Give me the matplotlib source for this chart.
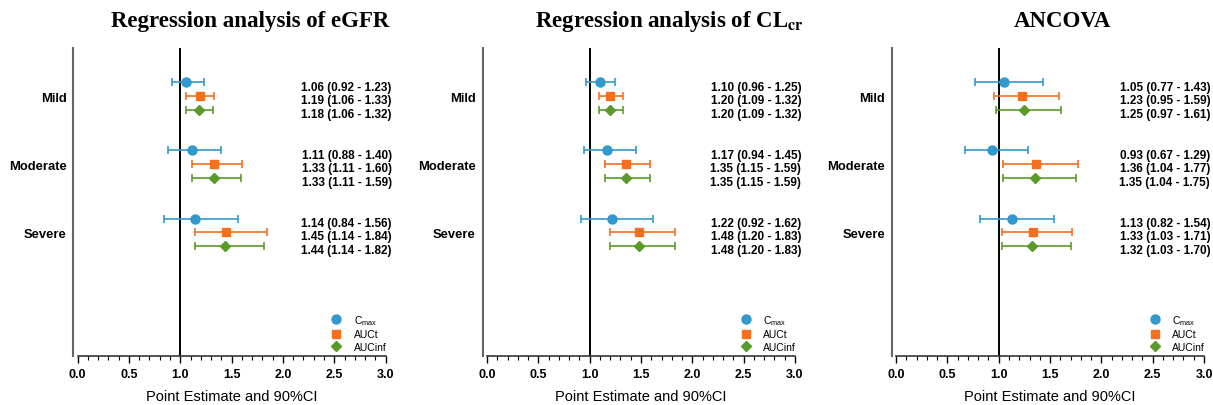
import matplotlib
matplotlib.use('Agg')
import matplotlib.pyplot as plt
from matplotlib.ticker import MultipleLocator
from matplotlib.transforms import blended_transform_factory

plt.rcParams['font.family'] = ['Liberation Sans', 'DejaVu Sans']
plt.rcParams['mathtext.fontset'] = 'custom'
plt.rcParams['mathtext.rm'] = 'Liberation Sans'
plt.rcParams['mathtext.it'] = 'Liberation Sans'

groups = ['Mild', 'Moderate', 'Severe']
params = ['Cmax', 'AUCt', 'AUCinf']

# eGFR regression
egfr_est = {'Cmax': [1.06, 1.11, 1.14], 'AUCt': [1.19, 1.33, 1.45], 'AUCinf': [1.18, 1.33, 1.44]}
egfr_lo = {'Cmax': [0.92, 0.88, 0.84], 'AUCt': [1.06, 1.11, 1.14], 'AUCinf': [1.06, 1.11, 1.14]}
egfr_hi = {'Cmax': [1.23, 1.40, 1.56], 'AUCt': [1.33, 1.60, 1.84], 'AUCinf': [1.32, 1.59, 1.82]}

# CLcr regression
clcr_est = {'Cmax': [1.10, 1.17, 1.22], 'AUCt': [1.20, 1.35, 1.48], 'AUCinf': [1.20, 1.35, 1.48]}
clcr_lo = {'Cmax': [0.96, 0.94, 0.92], 'AUCt': [1.09, 1.15, 1.20], 'AUCinf': [1.09, 1.15, 1.20]}
clcr_hi = {'Cmax': [1.25, 1.45, 1.62], 'AUCt': [1.32, 1.59, 1.83], 'AUCinf': [1.32, 1.59, 1.83]}

# ANCOVA
anc_est = {'Cmax': [1.05, 0.93, 1.13], 'AUCt': [1.23, 1.36, 1.33], 'AUCinf': [1.25, 1.35, 1.32]}
anc_lo = {'Cmax': [0.77, 0.67, 0.82], 'AUCt': [0.95, 1.04, 1.03], 'AUCinf': [0.97, 1.04, 1.03]}
anc_hi = {'Cmax': [1.43, 1.29, 1.54], 'AUCt': [1.59, 1.77, 1.71], 'AUCinf': [1.61, 1.75, 1.70]}

colors = {'Cmax': '#3399CC', 'AUCt': '#F4701F', 'AUCinf': '#5A9A2A'}
markers = {'Cmax': ('o', 6.5), 'AUCt': ('s', 5.5), 'AUCinf': ('D', 5.5)}
labels = {'Cmax': r'C$_{\mathrm{max}}$', 'AUCt': 'AUCt', 'AUCinf': 'AUCinf'}
offsets = {'Cmax': -0.2, 'AUCt': 0.0, 'AUCinf': 0.2}

panels = [
    (r'Regression analysis of eGFR', egfr_est, egfr_lo, egfr_hi, 0.064, 0.56),
    (r'Regression analysis of CL$_{\mathbf{cr}}$', clcr_est, clcr_lo, clcr_hi, 0.4015, 0.593),
    (r'ANCOVA', anc_est, anc_lo, anc_hi, 0.7387, 0.54),
]

fig = plt.figure(figsize=(12.13, 4.06), dpi=100)

for title, est, lo, hi, left, tx in panels:
    ax = fig.add_axes([left, 0.1207, 0.2539, 0.7586])
    trans = blended_transform_factory(ax.transAxes, ax.transData)
    for p in params:
        for i in range(len(groups)):
            y = i + offsets[p]
            ax.errorbar(est[p][i], y,
                        xerr=[[est[p][i] - lo[p][i]], [hi[p][i] - est[p][i]]],
                        fmt=markers[p][0], ms=markers[p][1], color=colors[p],
                        ecolor=colors[p], elinewidth=1.2, capsize=3, capthick=1.2)
            ax.text(1.02, y + 0.06,
                    f'{est[p][i]:.2f} ({lo[p][i]:.2f} - {hi[p][i]:.2f})',
                    transform=trans, ha='right', va='center',
                    fontsize=8.5, fontweight='bold', clip_on=False)
        ax.plot([], [], linestyle='none', marker=markers[p][0], ms=markers[p][1],
                color=colors[p], label=labels[p])

    ax.axvline(1.0, color='black', lw=1.4, zorder=0)
    ax.set_xlim(0, 3)
    ax.set_ylim(3.82, -0.706)
    ax.tick_params(axis='y', length=0, pad=5)
    ax.set_yticks(range(len(groups)), labels=groups)
    ax.tick_params(axis='x', which='major', length=5, width=1, labelsize=9, pad=4)
    ax.tick_params(axis='x', which='minor', length=3, width=0.8)
    ax.xaxis.set_major_locator(MultipleLocator(0.5))
    ax.xaxis.set_minor_locator(MultipleLocator(0.1))
    ticks = [0.0, 0.5, 1.0, 1.5, 2.0, 2.5, 3.0]
    ax.set_xticks(ticks)
    ax.set_xticklabels([f'{v:.1f}' for v in ticks], fontweight='bold')
    ax.set_xlim(0, 3)
    ax.set_xlabel('Point Estimate and 90%CI', fontsize=10.5, labelpad=6)

    ax.spines['top'].set_visible(False)
    ax.spines['right'].set_visible(False)
    ax.spines['left'].set_position(('outward', 3))
    ax.spines['left'].set_color('#666666')
    ax.spines['left'].set_linewidth(1.5)
    ax.spines['bottom'].set_color('#333333')
    ax.spines['bottom'].set_linewidth(1.2)

    ax.legend(loc='lower right', bbox_to_anchor=(1.027, -0.01), frameon=False,
              fontsize=7.5, handletextpad=1.1, labelspacing=0.25,
              handlelength=1.2, borderaxespad=0.3)

    ax.text(tx, 1.088, title, transform=ax.transAxes, ha='center', va='center',
            fontsize=16.5, fontweight='bold', family=['Liberation Serif'],
            math_fontfamily='stix')

    for lab in ax.get_yticklabels():
        lab.set_fontweight('bold')
        lab.set_fontsize(9.4)

fig.savefig('out.png', dpi=100)
